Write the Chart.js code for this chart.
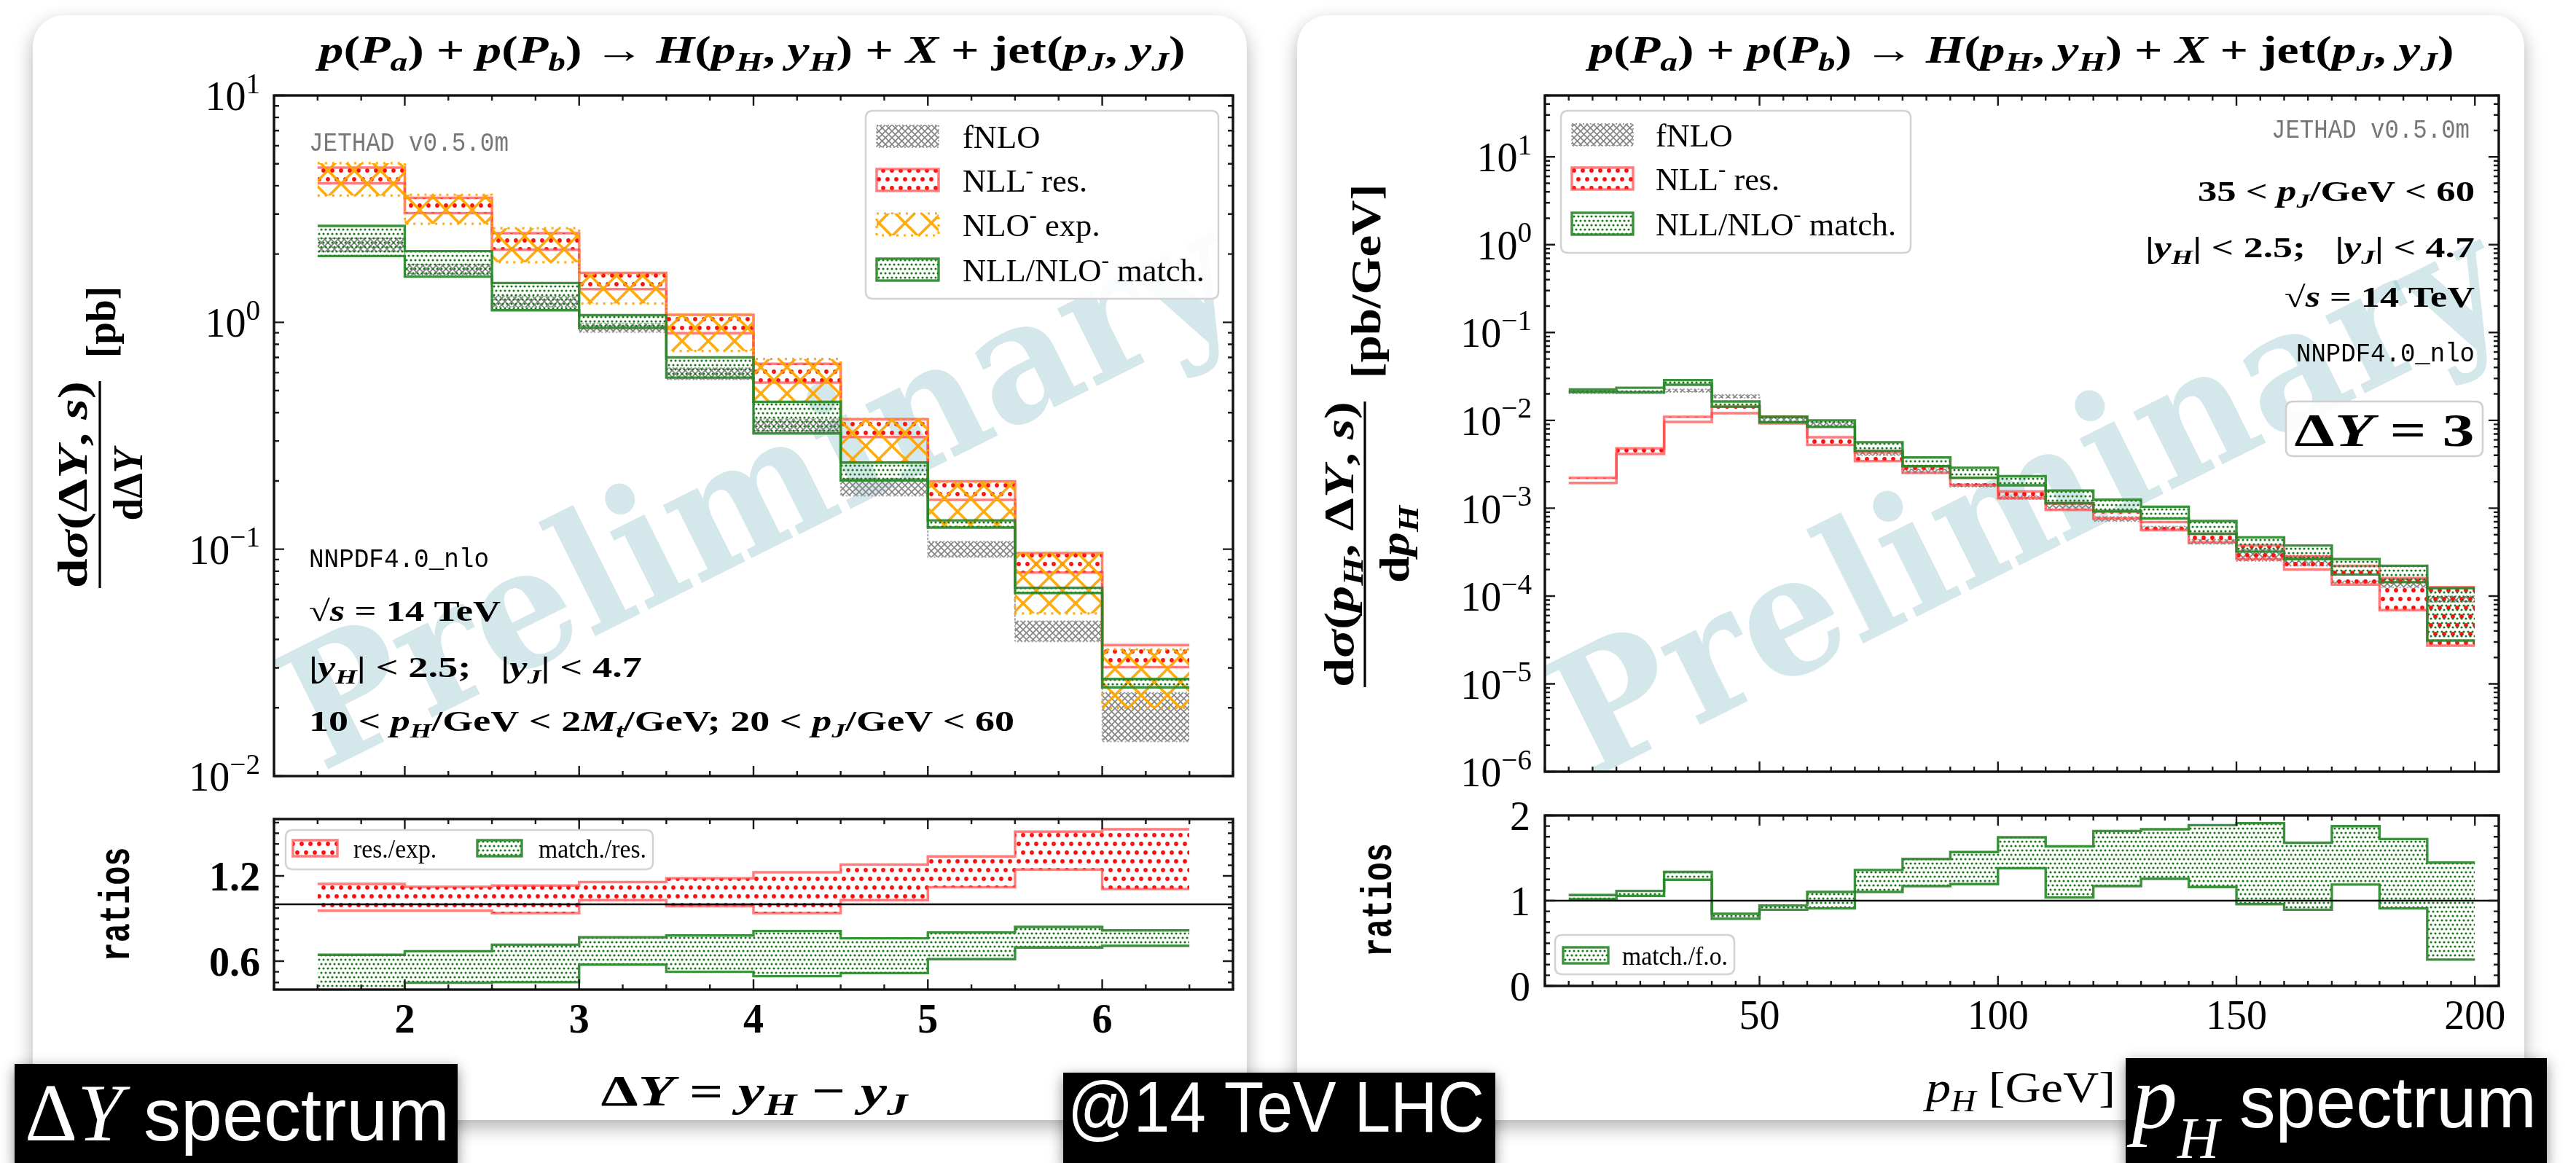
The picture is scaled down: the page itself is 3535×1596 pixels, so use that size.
<!DOCTYPE html>
<html><head><meta charset="utf-8">
<script src="https://cdn.jsdelivr.net/npm/chart.js@4.4.1/dist/chart.umd.min.js"></script>
<style>
html,body{margin:0;padding:0;background:#fff;}
#page{position:relative;width:3535px;height:1596px;overflow:hidden;background:#fff;}
.card{position:absolute;background:#fff;border-radius:42px;box-shadow:0 10px 26px rgba(0,0,0,0.30);}
canvas{position:absolute;left:0;top:0;}
</style></head>
<body><div id="page">
<div class="card" style="left:45px;top:21px;width:1666px;height:1516px"></div>
<div class="card" style="left:1780px;top:21px;width:1684px;height:1516px"></div>
<canvas id="cLM" width="3535" height="1596"></canvas>
<canvas id="cLR" width="3535" height="1596"></canvas>
<canvas id="cRM" width="3535" height="1596"></canvas>
<canvas id="cRR" width="3535" height="1596"></canvas>
<canvas id="ov" width="3535" height="1596"></canvas>
</div>
<script>
// ================= DATA : ΔY spectrum (left) =================
const dyEdges = [1.5, 2, 2.5, 3, 3.5, 4, 4.5, 5, 5.5, 6, 6.5];
const dyFnloHi = [2.35, 1.80, 1.30, 0.99, 0.63, 0.375, 0.205, 0.108, 0.0482, 0.0233];
const dyFnloLo = [2.05, 1.62, 1.17, 0.905, 0.56, 0.33, 0.172, 0.0923, 0.0392, 0.0142];
const dyResHi = [4.81, 3.54, 2.47, 1.65, 1.08, 0.656, 0.374, 0.199, 0.0961, 0.0378];
const dyResLo = [4.10, 3.03, 2.09, 1.40, 0.896, 0.543, 0.312, 0.165, 0.0789, 0.0302];
const dyExpHi = [5.03, 3.65, 2.60, 1.63, 1.08, 0.689, 0.376, 0.197, 0.0965, 0.0362];
const dyExpLo = [3.62, 2.72, 1.84, 1.21, 0.748, 0.446, 0.241, 0.126, 0.0521, 0.0200];
const dyMatHi = [2.66, 2.06, 1.49, 1.075, 0.700, 0.446, 0.241, 0.134, 0.0676, 0.0268];
const dyMatLo = [1.96, 1.59, 1.13, 0.945, 0.571, 0.324, 0.201, 0.1246, 0.0641, 0.0246];
const dyRatResExpHi = [1.143, 1.123, 1.132, 1.157, 1.183, 1.226, 1.28, 1.337, 1.512, 1.528];
const dyRatResExpLo = [0.955, 0.955, 0.939, 1.029, 0.987, 0.938, 1.029, 1.12, 1.245, 1.108];
const dyRatMatResHi = [0.645, 0.670, 0.716, 0.768, 0.781, 0.812, 0.761, 0.802, 0.841, 0.817];
const dyRatMatResLo = [0.38, 0.448, 0.452, 0.576, 0.525, 0.494, 0.516, 0.614, 0.696, 0.708];
const dyXTicks = [2, 3, 4, 5, 6];
const dyXTickLabels = ['2', '3', '4', '5', '6'];
const dyYTicks = [0.01, 0.1, 1, 10];
const dyYTickLabels = ['10^{−2}', '10^{−1}', '10^{0}', '10^{1}'];
const dyRatTicks = [0.6, 1.2];
const dyRatTickLabels = ['0.6', '1.2'];

// ================= DATA : pH spectrum (right) =================
const ptEdges = [10, 20, 30, 40, 50, 60, 70, 80, 90, 100, 110, 120, 130, 140, 150, 160, 170, 180, 190, 200];
const ptFnloHi = [0.0214, 0.0214, 0.0226, 0.0196, 0.0111, 0.0095, 0.0045, 0.0028, 0.0019, 0.00138, 0.00110, 0.00080, 0.00062, 0.00044, 0.00034, 0.00029, 0.000148, 0.000158, 0.000100];
const ptFnloLo = [0.0203, 0.0204, 0.0210, 0.0180, 0.0098, 0.0085, 0.0040, 0.0025, 0.00175, 0.00127, 0.00098, 0.00071, 0.00058, 0.00039, 0.00025, 0.00022, 0.00014, 0.000125, 0.000085];
const ptResHi = [0.00222, 0.0048, 0.01098, 0.01433, 0.0110, 0.00644, 0.00432, 0.00301, 0.00222, 0.00155, 0.00114, 0.000907, 0.000695, 0.000512, 0.000376, 0.000281, 0.000221, 0.00016, 0.000126];
const ptResLo = [0.00194, 0.00415, 0.0096, 0.01205, 0.00923, 0.00527, 0.00344, 0.00253, 0.00182, 0.0013, 0.000957, 0.000763, 0.000562, 0.000408, 0.000263, 0.000201, 0.000135, 0.0000692, 0.0000272];
const ptMatHi = [0.0225, 0.0235, 0.0287, 0.0164, 0.0110, 0.0100, 0.00564, 0.00378, 0.00289, 0.00231, 0.00159, 0.00125, 0.00104, 0.000714, 0.000466, 0.000376, 0.000263, 0.000221, 0.000123];
const ptMatLo = [0.0210, 0.0208, 0.0254, 0.0143, 0.00948, 0.00841, 0.0045, 0.00301, 0.00222, 0.00182, 0.00114, 0.00093, 0.000763, 0.000512, 0.000321, 0.000263, 0.000176, 0.000144, 0.0000311];
const ptRatHi = [1.066, 1.114, 1.337, 0.846, 0.943, 1.103, 1.36, 1.489, 1.571, 1.743, 1.637, 1.817, 1.837, 1.886, 1.909, 1.68, 1.874, 1.723, 1.446];
const ptRatLo = [1.017, 1.057, 1.246, 0.789, 0.894, 0.909, 1.103, 1.171, 1.194, 1.38, 1.037, 1.171, 1.257, 1.16, 0.96, 0.894, 1.189, 0.909, 0.309];
const ptXTicks = [50, 100, 150, 200];
const ptXTickLabels = ['50', '100', '150', '200'];
const ptYTicks = [1e-6, 1e-5, 1e-4, 1e-3, 1e-2, 1e-1, 1, 10];
const ptYTickLabels = ['10^{−6}', '10^{−5}', '10^{−4}', '10^{−3}', '10^{−2}', '10^{−1}', '10^{0}', '10^{1}'];
const ptRatTicks = [0, 1, 2];
const ptRatTickLabels = ['0', '1', '2'];

const ratioRef = 1;
const legendMainLeft = ['fNLO', 'NLL^- res.', 'NLO^- exp.', 'NLL/NLO^- match.'];
const legendMainRight = ['fNLO', 'NLL^- res.', 'NLL/NLO^- match.'];
const legendRatioLeft = ['res./exp.', 'match./res.'];
const legendRatioRight = ['match./f.o.'];

// ================= helpers =================
const W = 3535, H = 1596;
const SERIF = '"Liberation Serif", "DejaVu Serif", serif';
const MONO = '"Liberation Mono", "DejaVu Sans Mono", monospace';
const SANS = '"Liberation Sans", "DejaVu Sans", sans-serif';

function parse(s) {
  const out = []; let it = false, buf = '', i = 0;
  const push = (t, ex) => { if (t) out.push(Object.assign({ t: t, i: it }, ex || {})); };
  while (i < s.length) {
    const c = s[i];
    if (c === '*') { push(buf); buf = ''; it = !it; i++; continue; }
    if (c === '_' || c === '^') {
      push(buf); buf = '';
      let t;
      if (s[i + 1] === '{') { const j = s.indexOf('}', i); t = s.slice(i + 2, j); i = j + 1; }
      else { t = s[i + 1]; i += 2; }
      push(t, c === '_' ? { sub: true } : { sup: true });
      continue;
    }
    buf += c; i++;
  }
  push(buf);
  return out;
}

function rich(ctx, segs, x, y, o) {
  const S = o.size, fam = o.family || SERIF;
  const parts = segs.map(s => {
    const mul = (s.sub || s.sup) ? 0.7 : (s.scale || 1);
    const sz = S * mul;
    const b = s.b !== undefined ? s.b : !!o.bold;
    const font = (s.i ? 'italic ' : '') + (b ? 'bold ' : '') + sz.toFixed(2) + 'px ' + (s.f || fam);
    ctx.font = font;
    const dy = s.dy !== undefined ? s.dy : s.sub ? S * 0.22 : s.sup ? -S * 0.42 : 0;
    return { t: s.t, font: font, w: ctx.measureText(s.t).width, dy: dy };
  });
  const tw = parts.reduce((a, p) => a + p.w, 0);
  if (o.measure) return tw;
  const sx = o.sx || (o.fitW ? o.fitW / tw : 1);
  ctx.save();
  ctx.translate(x, y);
  if (o.rot) ctx.rotate(o.rot);
  ctx.scale(sx, 1);
  let cx = o.align === 'center' ? -tw / 2 : o.align === 'right' ? -tw : 0;
  const by = o.base ? 0 : S * 0.36;
  ctx.fillStyle = o.color || '#000';
  ctx.textAlign = 'left'; ctx.textBaseline = 'alphabetic';
  for (const p of parts) { ctx.font = p.font; ctx.fillText(p.t, cx, by + p.dy); cx += p.w; }
  ctx.restore();
  return tw * sx;
}

function rrect(ctx, x, y, w, h, r) {
  ctx.beginPath();
  ctx.moveTo(x + r, y); ctx.lineTo(x + w - r, y); ctx.quadraticCurveTo(x + w, y, x + w, y + r);
  ctx.lineTo(x + w, y + h - r); ctx.quadraticCurveTo(x + w, y + h, x + w - r, y + h);
  ctx.lineTo(x + r, y + h); ctx.quadraticCurveTo(x, y + h, x, y + h - r);
  ctx.lineTo(x, y + r); ctx.quadraticCurveTo(x, y, x + r, y); ctx.closePath();
}

function mkPat(w, h, fn) {
  const c = document.createElement('canvas'); c.width = w; c.height = h;
  const g = c.getContext('2d'); fn(g); return g.createPattern(c, 'repeat');
}
function dotPat(sp, r, col) {
  return mkPat(sp, sp * 2, g => {
    g.fillStyle = col;
    [[sp / 2, sp / 2], [0, 1.5 * sp], [sp, 1.5 * sp]].forEach(([x, y]) => { g.beginPath(); g.arc(x, y, r, 0, 2 * Math.PI); g.fill(); });
  });
}
function xPat(sp, lw, col) {
  return mkPat(sp, sp, g => {
    g.strokeStyle = col; g.lineWidth = lw; g.beginPath();
    g.moveTo(-2, -2); g.lineTo(sp + 2, sp + 2); g.moveTo(sp + 2, -2); g.lineTo(-2, sp + 2); g.stroke();
  });
}

const STY = {
  fnlo: { pat: xPat(9, 1.7, '#858585'), edge: 'rgba(150,150,150,0.9)', bw: 1.8, dash: [2, 3] },
  res: { pat: dotPat(12, 2.9, '#ff1010'), edge: 'rgba(255,70,70,0.7)', bw: 3.5, dash: [] },
  exp: { pat: xPat(36, 3.6, 'rgba(255,165,0,0.95)'), edge: 'rgba(255,165,0,0.9)', bw: 3.2, dash: [3, 7] },
  mat: { pat: dotPat(6, 1.55, '#1a761a'), edge: 'rgba(40,135,40,0.9)', bw: 3.4, dash: [] }
};

function stepPts(edges, vals) {
  const pts = [];
  for (let i = 0; i < vals.length; i++) {
    pts.push({ x: edges[i], y: vals[i] });
    pts.push({ x: edges[i + 1], y: vals[i] });
  }
  return pts;
}
function band(hi, lo, edges, st, order) {
  const common = { borderColor: st.edge, borderWidth: st.bw, borderDash: st.dash, pointRadius: 0, tension: 0, order: order };
  return [
    Object.assign({ data: stepPts(edges, hi), fill: false }, common),
    Object.assign({ data: stepPts(edges, lo), fill: '-1', backgroundColor: st.pat }, common)
  ];
}
function hline(x0, x1) {
  return { data: [{ x: x0, y: ratioRef }, { x: x1, y: ratioRef }], borderColor: '#000', borderWidth: 2.6, pointRadius: 0, fill: false, order: -1 };
}
function linTicks(min, max, step) {
  const out = []; const n0 = Math.ceil(min / step - 1e-9);
  for (let k = n0; k * step <= max + 1e-9; k++) out.push(+(k * step).toFixed(6));
  return out;
}
function logMinor(min, max) {
  const out = [];
  for (let e = Math.floor(Math.log10(min)); e <= Math.ceil(Math.log10(max)); e++)
    for (let k = 2; k < 10; k++) { const v = k * Math.pow(10, e); if (v >= min * 0.999 && v <= max * 1.001) out.push(v); }
  return out;
}

function swatch(ctx, st, x, y, w, h) {
  ctx.save();
  ctx.fillStyle = st.pat; ctx.fillRect(x, y, w, h);
  ctx.strokeStyle = st.edge; ctx.lineWidth = st.bw; ctx.setLineDash(st.dash);
  ctx.strokeRect(x, y, w, h);
  ctx.restore();
}
function legendBox(ctx, box, items, o) {
  ctx.save();
  rrect(ctx, box.x, box.y, box.w, box.h, 10);
  ctx.fillStyle = 'rgba(255,255,255,0.88)'; ctx.fill();
  ctx.strokeStyle = '#d2d2d2'; ctx.lineWidth = 2.5; ctx.stroke();
  let maxW = 0;
  items.forEach(it => { maxW = Math.max(maxW, rich(ctx, parse(it.label), 0, 0, { size: o.size, measure: true })); });
  const sx = o.longW / maxW;
  items.forEach((it, i) => {
    const sxp = it.sx || o.swX, yy = it.y !== undefined ? it.y : o.ys[i];
    swatch(ctx, it.st, sxp, yy - o.swH / 2, o.swW, o.swH);
    rich(ctx, parse(it.label), it.tx || o.tx, yy, { size: o.size, sx: sx });
  });
  ctx.restore();
}
function drawWM(ctx, a, wm) {
  ctx.save();
  ctx.beginPath(); ctx.rect(a.left, a.top, a.right - a.left, a.bottom - a.top); ctx.clip();
  ctx.translate(wm.cx, wm.cy); ctx.rotate(wm.ang);
  ctx.font = 'bold ' + wm.size + 'px "DejaVu Serif", serif';
  const w = ctx.measureText('Preliminary').width;
  ctx.scale(wm.len / w, 1);
  ctx.fillStyle = 'rgba(100,170,182,0.28)';
  ctx.textAlign = 'center'; ctx.textBaseline = 'middle';
  ctx.fillText('Preliminary', 0, 0);
  ctx.restore();
}

function frameTicks(sp) {
  return {
    id: 'frameTicks',
    beforeDatasetsDraw(chart) { if (sp.wm) drawWM(chart.ctx, chart.chartArea, sp.wm); },
    afterDatasetsDraw(chart) {
      const ctx = chart.ctx, a = chart.chartArea, xs = chart.scales.x, ys = chart.scales.y;
      ctx.save();
      ctx.strokeStyle = '#1a1a1a'; ctx.lineWidth = 2.4; ctx.setLineDash([]); ctx.beginPath();
      const vt = (vals, L) => vals.forEach(v => { const p = xs.getPixelForValue(v); ctx.moveTo(p, a.bottom); ctx.lineTo(p, a.bottom - L); ctx.moveTo(p, a.top); ctx.lineTo(p, a.top + L); });
      const ht = (vals, L) => vals.forEach(v => { const p = ys.getPixelForValue(v); ctx.moveTo(a.left, p); ctx.lineTo(a.left + L, p); ctx.moveTo(a.right, p); ctx.lineTo(a.right - L, p); });
      vt(sp.xMinor, 7); vt(sp.xMajor, 14); ht(sp.yMinor, 7); ht(sp.yMajor, 14);
      ctx.stroke();
      ctx.lineWidth = 3.4; ctx.strokeStyle = '#111';
      ctx.strokeRect(a.left, a.top, a.right - a.left, a.bottom - a.top);
      if (sp.xLab) sp.xLab.vals.forEach((v, i) => rich(ctx, parse(sp.xLab.labs[i]), xs.getPixelForValue(v), sp.xLab.y, { size: sp.xLab.size, bold: sp.xLab.bold, align: 'center' }));
      if (sp.yLab) sp.yLab.vals.forEach((v, i) => rich(ctx, parse(sp.yLab.labs[i]), sp.yLab.x, ys.getPixelForValue(v), { size: sp.yLab.size, bold: sp.yLab.bold, align: 'right' }));
      if (sp.after) sp.after(ctx);
      ctx.restore();
    }
  };
}

function makeChart(id, area, xr, yr, ylog, datasets, sp) {
  return new Chart(document.getElementById(id), {
    type: 'line',
    data: { datasets: datasets },
    options: {
      responsive: false, animation: false, devicePixelRatio: 1, events: [],
      layout: { padding: { left: area.l, top: area.t, right: W - area.r, bottom: H - area.b } },
      plugins: { legend: { display: false }, tooltip: { enabled: false } },
      scales: {
        x: { type: 'linear', min: xr[0], max: xr[1], display: false },
        y: { type: ylog ? 'logarithmic' : 'linear', min: yr[0], max: yr[1], display: false }
      },
      elements: { point: { radius: 0 }, line: { tension: 0 } }
    },
    plugins: [frameTicks(sp)]
  });
}

// ================= layout =================
const LM = { l: 376, r: 1692, t: 131, b: 1065 };
const LR = { l: 376, r: 1692, t: 1124, b: 1358 };
const RM = { l: 2120, r: 3429, t: 131, b: 1059 };
const RR = { l: 2120, r: 3429, t: 1119, b: 1353 };
const dyXR = [1.25, 6.75], ptXR = [5, 205];

// Left main
makeChart('cLM', LM, dyXR, [0.01, 10], true, [].concat(
  band(dyMatHi, dyMatLo, dyEdges, STY.mat, 0),
  band(dyExpHi, dyExpLo, dyEdges, STY.exp, 1),
  band(dyResHi, dyResLo, dyEdges, STY.res, 2),
  band(dyFnloHi, dyFnloLo, dyEdges, STY.fnlo, 3)
), {
  xMajor: dyXTicks, xMinor: linTicks(1.25, 6.75, 0.25),
  yMajor: dyYTicks, yMinor: logMinor(0.01, 10),
  yLab: { vals: dyYTicks, labs: dyYTickLabels, x: 357, size: 56, bold: false },
  wm: { cx: 1050, cy: 690, ang: -26.5 * Math.PI / 180, len: 1420, size: 230 },
  after(ctx) {
    rich(ctx, [{ t: 'JETHAD v0.5.0m', f: MONO }], 424, 194, { size: 36, color: '#777', fitW: 274 });
    rich(ctx, [{ t: 'NNPDF4.0_nlo', f: MONO }], 424, 765, { size: 36, fitW: 247 });
    rich(ctx, parse('√*s* = 14 TeV'), 424, 838, { size: 40, bold: true, fitW: 263 });
    rich(ctx, parse('|*y_H*| < 2.5;   |*y_J*| < 4.7'), 424, 915, { size: 40, bold: true, fitW: 457 });
    rich(ctx, parse('10 < *p_H*/GeV < 2*M_t*/GeV; 20 < *p_J*/GeV < 60'), 424, 989, { size: 40, bold: true, fitW: 968 });
    legendBox(ctx, { x: 1188, y: 152, w: 484, h: 258 }, [
      { st: STY.fnlo, label: legendMainLeft[0] }, { st: STY.res, label: legendMainLeft[1] },
      { st: STY.exp, label: legendMainLeft[2] }, { st: STY.mat, label: legendMainLeft[3] }
    ], { swX: 1203, swW: 85, swH: 30, tx: 1321, ys: [187, 247, 308, 370], size: 44, longW: 332 });
  }
});

// Left ratio
makeChart('cLR', LR, dyXR, [0.4, 1.6], false, [].concat(
  band(dyRatMatResHi, dyRatMatResLo, dyEdges, STY.mat, 1),
  band(dyRatResExpHi, dyRatResExpLo, dyEdges, STY.res, 1),
  [hline(dyXR[0], dyXR[1])]
), {
  xMajor: dyXTicks, xMinor: linTicks(1.25, 6.75, 0.25),
  yMajor: dyRatTicks, yMinor: linTicks(0.4, 1.6, 0.075),
  xLab: { vals: dyXTicks, labs: dyXTickLabels, y: 1397, size: 56, bold: true },
  yLab: { vals: dyRatTicks, labs: dyRatTickLabels, x: 357, size: 56, bold: true },
  after(ctx) {
    legendBox(ctx, { x: 392, y: 1139, w: 504, h: 54 }, [
      { st: STY.res, label: legendRatioLeft[0], sx: 402, tx: 485, y: 1164 },
      { st: STY.mat, label: legendRatioLeft[1], sx: 655, tx: 739, y: 1164 }
    ], { swW: 61, swH: 22, size: 36, longW: 148 });
  }
});

// Right main
makeChart('cRM', RM, ptXR, [1e-6, 50], true, [].concat(
  band(ptMatHi, ptMatLo, ptEdges, STY.mat, 0),
  band(ptResHi, ptResLo, ptEdges, STY.res, 2),
  band(ptFnloHi, ptFnloLo, ptEdges, STY.fnlo, 3)
), {
  xMajor: ptXTicks, xMinor: linTicks(5, 205, 5),
  yMajor: ptYTicks, yMinor: logMinor(1e-6, 50),
  yLab: { vals: ptYTicks, labs: ptYTickLabels, x: 2102, size: 56, bold: false },
  wm: { cx: 2790, cy: 700, ang: -26.5 * Math.PI / 180, len: 1420, size: 230 },
  after(ctx) {
    rich(ctx, [{ t: 'JETHAD v0.5.0m', f: MONO }], 3389, 176, { size: 36, color: '#777', fitW: 272, align: 'right' });
    rich(ctx, parse('35 < *p_J*/GeV < 60'), 3396, 262, { size: 40, bold: true, fitW: 380, align: 'right' });
    rich(ctx, parse('|*y_H*| < 2.5;   |*y_J*| < 4.7'), 3396, 339, { size: 40, bold: true, fitW: 452, align: 'right' });
    rich(ctx, parse('√*s* = 14 TeV'), 3396, 407, { size: 40, bold: true, fitW: 261, align: 'right' });
    rich(ctx, [{ t: 'NNPDF4.0_nlo', f: MONO }], 3396, 483, { size: 36, fitW: 245, align: 'right' });
    ctx.save();
    rrect(ctx, 3137, 551, 270, 75, 10);
    ctx.fillStyle = 'rgba(255,255,255,0.9)'; ctx.fill();
    ctx.strokeStyle = '#cfcfcf'; ctx.lineWidth = 2.5; ctx.stroke();
    ctx.restore();
    rich(ctx, parse('Δ*Y* = 3'), 3272, 589, { size: 64, bold: true, fitW: 247, align: 'center' });
    legendBox(ctx, { x: 2142, y: 152, w: 480, h: 195 }, [
      { st: STY.fnlo, label: legendMainRight[0] }, { st: STY.res, label: legendMainRight[1] },
      { st: STY.mat, label: legendMainRight[2] }
    ], { swX: 2157, swW: 84, swH: 30, tx: 2272, ys: [185, 245, 307], size: 44, longW: 330 });
  }
});

// Right ratio
makeChart('cRR', RR, ptXR, [0, 2], false, [].concat(
  band(ptRatHi, ptRatLo, ptEdges, STY.mat, 1),
  [hline(ptXR[0], ptXR[1])]
), {
  xMajor: ptXTicks, xMinor: linTicks(5, 205, 5),
  yMajor: ptRatTicks, yMinor: linTicks(0, 2, 0.125),
  xLab: { vals: ptXTicks, labs: ptXTickLabels, y: 1392, size: 56, bold: false },
  yLab: { vals: ptRatTicks, labs: ptRatTickLabels, x: 2100, size: 56, bold: false },
  after(ctx) {
    legendBox(ctx, { x: 2134, y: 1283, w: 246, h: 54 }, [
      { st: STY.mat, label: legendRatioRight[0], sx: 2145, tx: 2226, y: 1311 }
    ], { swW: 62, swH: 22, size: 36, longW: 145 });
  }
});

// ================= overlay texts =================
(function () {
  const ctx = document.getElementById('ov').getContext('2d');
  const title = '*p*(*P_a*) + *p*(*P_b*) → *H*(*p_H*, *y_H*) + *X* + jet(*p_J*, *y_J*)';
  rich(ctx, parse(title), 1032, 67, { size: 52, bold: true, align: 'center', fitW: 1189 });
  rich(ctx, parse(title), 2774, 67, { size: 52, bold: true, align: 'center', fitW: 1187 });

  // x-axis titles
  rich(ctx, parse('Δ*Y* = *y_H* − *y_J*'), 1035, 1495, { size: 60, bold: true, align: 'center', fitW: 421 });
  rich(ctx, parse('*p_H* [GeV]'), 2773, 1490, { size: 60, bold: false, align: 'center', fitW: 260 });

  // y-axis titles (fractions)
  const R = -Math.PI / 2;
  function yFrac(barX, cy, num, den, unit, o) {
    rich(ctx, parse(num), barX - o.numOff, cy, { size: 58, bold: true, align: 'center', rot: R, fitW: o.numW });
    rich(ctx, parse(den), barX + o.denOff, cy, { size: 58, bold: true, align: 'center', rot: R, fitW: o.denW });
    rich(ctx, parse(unit), barX, o.unitCy, { size: 58, bold: true, align: 'center', rot: R, fitW: o.unitW });
    ctx.fillStyle = '#000'; ctx.fillRect(barX - 1.6, cy - o.numW / 2, 3.2, o.numW);
  }
  yFrac(137, 665, 'd*σ*(Δ*Y*, *s*)', 'dΔ*Y*', '[pb]', { numOff: 39, denOff: 37, numW: 284, denW: 99, unitCy: 442, unitW: 98 });
  yFrac(1873, 747, 'd*σ*(*p_H*, Δ*Y*, *s*)', 'd*p_H*', '[pb/GeV]', { numOff: 37, denOff: 39, numW: 392, denW: 106, unitCy: 386, unitW: 267 });

  // ratio titles
  rich(ctx, [{ t: 'ratios', f: MONO }], 155, 1241, { size: 60, bold: true, align: 'center', rot: R, fitW: 157 });
  rich(ctx, [{ t: 'ratios', f: MONO }], 1887, 1235, { size: 60, bold: true, align: 'center', rot: R, fitW: 156 });

  // black label boxes
  function blackBox(x, y, w, h) {
    ctx.save();
    ctx.shadowColor = 'rgba(0,0,0,0.45)'; ctx.shadowBlur = 18; ctx.shadowOffsetY = 6;
    ctx.fillStyle = '#000'; ctx.fillRect(x, y, w, h);
    ctx.restore();
  }
  blackBox(20, 1460, 608, 140);
  blackBox(1459, 1472, 593, 128);
  blackBox(2917, 1452, 578, 148);
  rich(ctx, [{ t: 'Δ', f: SERIF, scale: 1.1 }, { t: 'Y', i: true, f: SERIF, scale: 1.1 }, { t: ' spectrum', f: SANS }], 34, 1565, { size: 102, color: '#fff', base: true, fitW: 583 });
  rich(ctx, [{ t: '@14 TeV LHC', f: SANS }], 1751, 1553, { size: 98, color: '#fff', base: true, align: 'center', fitW: 572 });
  rich(ctx, [{ t: 'p', i: true, f: SERIF, scale: 1.25 }, { t: 'H', i: true, f: SERIF, scale: 0.8, dy: 42 }, { t: ' spectrum', f: SANS }], 2926, 1547, { size: 100, color: '#fff', base: true, fitW: 555 });
})();
</script>
</body></html>
